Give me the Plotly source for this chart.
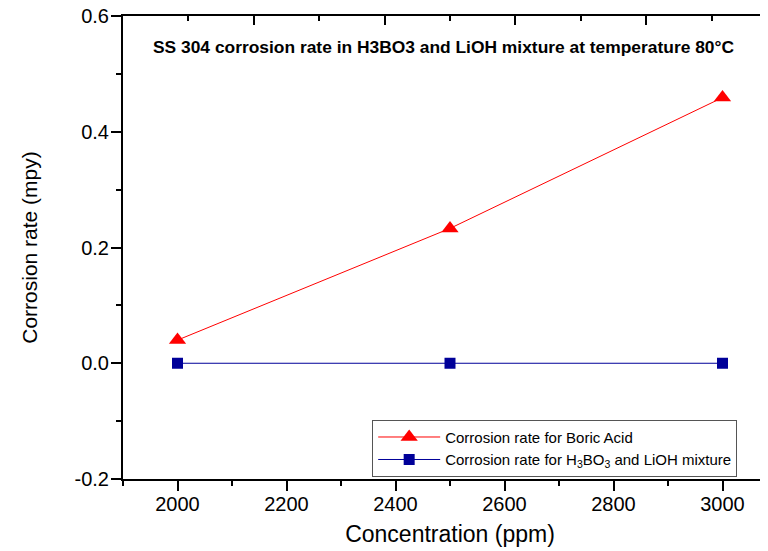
import plotly.graph_objects as go

concentration = [2000, 2500, 3000]
boric_acid = [0.04, 0.233, 0.459]
mixture = [0.0, 0.0, 0.0]
y_tickvals = [-0.2, 0.0, 0.2, 0.4, 0.6]
y_ticktext = ["-0.2", "0.0", "0.2", "0.4", "0.6"]
title_text = "SS 304 corrosion rate in H3BO3 and LiOH mixture at temperature 80°C"
name_boric = "Corrosion rate for Boric Acid"
name_mix = "Corrosion rate for H<sub>3</sub>BO<sub>3</sub> and LiOH mixture"

FONT = "Arial, Liberation Sans, sans-serif"

fig = go.Figure()
fig.add_trace(go.Scatter(
    x=concentration, y=boric_acid, mode="lines+markers", name=name_boric,
    line=dict(color="#FF0000", width=1),
    marker=dict(symbol="triangle-up", size=15, color="#FF0000"),
))
fig.add_trace(go.Scatter(
    x=concentration, y=mixture, mode="lines+markers", name=name_mix,
    line=dict(color="#000099", width=1),
    marker=dict(symbol="square", size=11, color="#000099"),
))
# helper empty trace for the top/right frame axes
fig.add_trace(go.Scatter(x=[], y=[], xaxis="x2", yaxis="y2", showlegend=False, hoverinfo="skip"))

fig.update_layout(
    width=780, height=551,
    margin=dict(l=115, r=11, t=8, b=80),
    paper_bgcolor="white", plot_bgcolor="white",
    font=dict(family=FONT, color="black"),
    showlegend=True,
    legend=dict(
        x=0.381, y=0.128, xanchor="left", yanchor="top",
        bordercolor="#555555", borderwidth=1, bgcolor="white",
        font=dict(size=15, family=FONT), itemwidth=62,
        tracegroupgap=0,
    ),
    xaxis=dict(
        range=[1900, 3100], dtick=200, tick0=2000,
        ticks="outside", ticklen=10, tickwidth=2, tickcolor="black",
        minor=dict(dtick=100, ticks="outside", ticklen=5, tickwidth=2, tickcolor="black"),
        showline=True, linewidth=2, linecolor="black", mirror=False,
        showgrid=False, zeroline=False,
        tickfont=dict(size=20), ticklabelstandoff=-4, ticklabeloverflow="allow",
        title=dict(text="Concentration (ppm)", font=dict(size=23), standoff=12),
        automargin=False,
    ),
    yaxis=dict(
        range=[-0.2, 0.6], tickmode="array", tickvals=y_tickvals, ticktext=y_ticktext,
        ticks="outside", ticklen=10, tickwidth=2, tickcolor="black",
        minor=dict(tickmode="linear", tick0=-0.2, dtick=0.1, ticks="outside", ticklen=5, tickwidth=2, tickcolor="black"),
        showline=True, linewidth=2, linecolor="black",
        showgrid=False, zeroline=False,
        tickfont=dict(size=20), ticklabelstandoff=-2, ticklabeloverflow="allow",
        title=dict(text="Corrosion rate (mpy)", font=dict(size=21), standoff=31),
        automargin=False,
    ),
    xaxis2=dict(
        overlaying="x", side="top", anchor="y", range=[0, 5], dtick=1, tick0=0,
        ticks="inside", ticklen=9, tickwidth=2, tickcolor="black",
        minor=dict(dtick=0.5, ticks="inside", ticklen=5, tickwidth=2, tickcolor="black"),
        showline=True, linewidth=2, linecolor="black",
        showticklabels=False, showgrid=False, zeroline=False,
    ),
    yaxis2=dict(
        overlaying="y", side="right", anchor="x", range=[0, 5], dtick=1, tick0=0,
        ticks="inside", ticklen=12, tickwidth=2, tickcolor="black",
        showline=False, showticklabels=False, showgrid=False, zeroline=False,
    ),
    annotations=[dict(
        text="<b>" + title_text + "</b>", xref="paper", yref="paper",
        x=0.490, y=0.933, xanchor="center", yanchor="middle", showarrow=False,
        font=dict(size=17.4, family=FONT, color="black"),
    )],
)

fig.write_html("out.html")
